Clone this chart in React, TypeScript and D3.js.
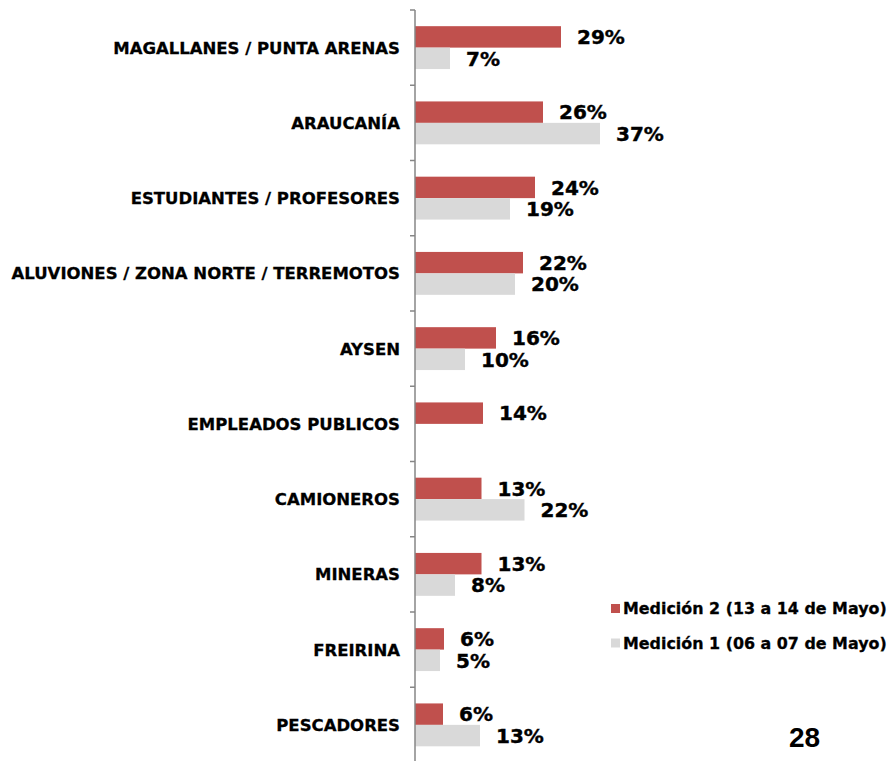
import React from "react";
import * as d3 from "d3";

const categories = [
  "MAGALLANES / PUNTA ARENAS",
  "ARAUCANÍA",
  "ESTUDIANTES / PROFESORES",
  "ALUVIONES / ZONA NORTE / TERREMOTOS",
  "AYSEN",
  "EMPLEADOS PUBLICOS",
  "CAMIONEROS",
  "MINERAS",
  "FREIRINA",
  "PESCADORES",
];
const medicion2: (number | null)[] = [29.2, 25.6, 24.0, 21.6, 16.2, 13.6, 13.3, 13.3, 5.8, 5.6];
const medicion1: (number | null)[] = [7.0, 37.0, 19.0, 20.0, 10.0, null, 21.9, 8.0, 5.0, 13.0];
const seriesNames = ["Medición 2 (13 a 14 de Mayo)", "Medición 1 (06 a 07 de Mayo)"];
const seriesKeys = ["m2", "m1"];
const colors = ["#c0504d", "#d9d9d9"];
const pageNumber = "28";

const W = 890;
const H = 761;
const FONT = "'DejaVu Sans', Verdana, sans-serif";

export default function App() {
  const axisX = 415;
  const x = d3.scaleLinear().domain([0, 100]).range([axisX, axisX + 500]);
  const y = d3
    .scaleBand<string>()
    .domain(categories)
    .range([10, 762.5])
    .paddingInner(0.43)
    .paddingOuter(0.215);
  const ySub = d3.scaleBand<string>().domain(seriesKeys).range([0, y.bandwidth()]);
  const step = y.step();
  const ticks = d3.range(categories.length + 1).map((i) => 10 + i * step);
  const fmt = (v: number) => `${d3.format(".0f")(v)}%`;
  const data = [medicion2, medicion1];

  return (
    <svg width={W} height={H} style={{ position: "absolute", left: 0, top: 0, background: "#fff" }}>
      {/* bars */}
      {categories.map((c, i) => (
        <g key={c}>
          {data.map((arr, s) => {
            const v = arr[i];
            if (v == null) return null;
            const yy = (y(c) as number) + (ySub(seriesKeys[s]) as number);
            return (
              <g key={s}>
                <rect x={x(0)} y={yy} width={x(v) - x(0)} height={ySub.bandwidth()} fill={colors[s]} />
                <text
                  x={x(v) + 16}
                  y={yy + ySub.bandwidth() / 2}
                  dy="0.36em"
                  fontFamily={FONT}
                  fontWeight="bold"
                  fontSize={20}
                  fill="#000"
                  stroke="#000"
                  strokeWidth={0.4}
                >
                  {fmt(v)}
                </text>
              </g>
            );
          })}
          <text
            x={400}
            y={(y(c) as number) + y.bandwidth() / 2}
            dy="0.36em"
            textAnchor="end"
            fontFamily={FONT}
            fontWeight="bold"
            fontSize={16.5}
            fill="#000"
            stroke="#000"
            strokeWidth={0.3}
          >
            {c}
          </text>
        </g>
      ))}
      {/* axis */}
      <line x1={axisX} x2={axisX} y1={10} y2={H + 5} stroke="#868686" strokeWidth={1.5} />
      {ticks.map((t, i) => (
        <line key={i} x1={axisX - 5} x2={axisX} y1={t} y2={t} stroke="#868686" strokeWidth={1.5} />
      ))}
      {/* legend */}
      {seriesNames.map((n, i) => (
        <g key={n} transform={`translate(611, ${604 + i * 34.5})`}>
          <rect x={0} y={0} width={9} height={9} fill={colors[i]} />
          <text
            x={12}
            y={10}
            fontFamily={FONT}
            fontWeight="bold"
            fontSize={15.9}
            fill="#000"
            stroke="#000"
            strokeWidth={0.3}
          >
            {n}
          </text>
        </g>
      ))}
      <text x={789} y={747} fontFamily="'Liberation Sans', Arial, sans-serif" fontWeight="bold" fontSize={28} fill="#000">
        {pageNumber}
      </text>
    </svg>
  );
}
